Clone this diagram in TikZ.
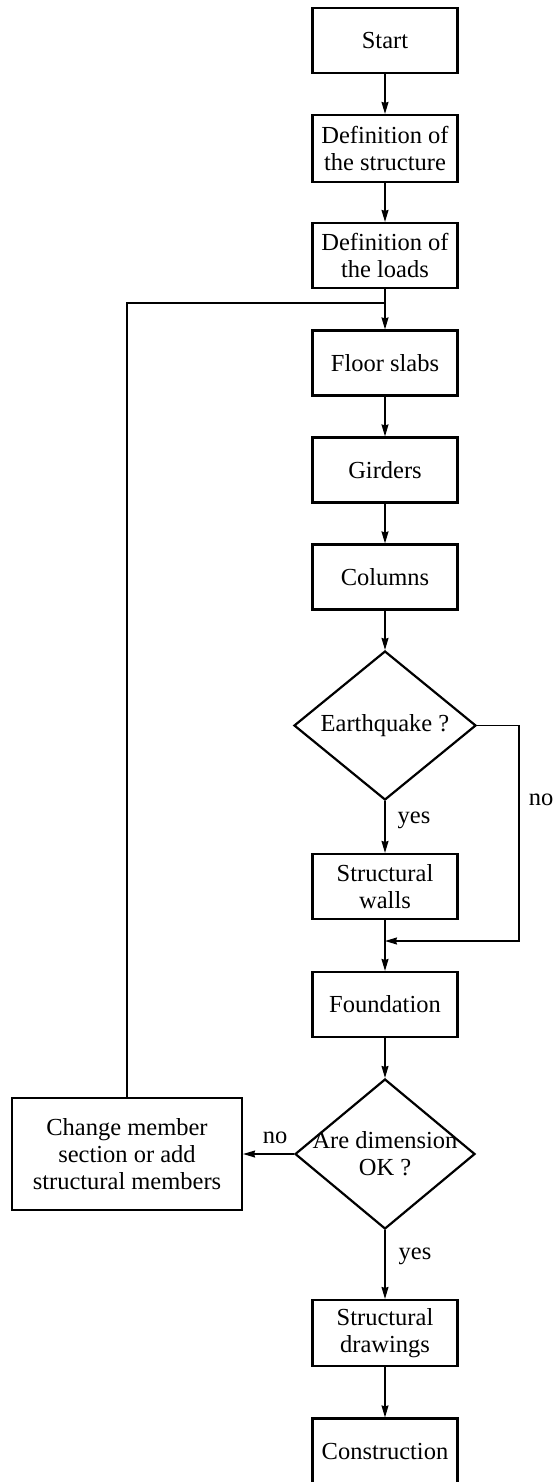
\documentclass[tikz,border=0pt]{standalone}
\usepackage{fontspec}
\setmainfont{Liberation Serif}
\usetikzlibrary{shapes.geometric,arrows.meta}
\begin{document}
\begin{tikzpicture}[x=1pt,y=-1pt,
  font=\fontsize{24.5}{27}\selectfont,
  box/.style={draw,line width=2.2pt,minimum width=145pt,minimum height=65pt,inner sep=0pt,align=center},
  dia/.style={draw,diamond,line width=2.2pt,minimum width=182pt,minimum height=149pt,inner sep=0pt},
  lbl/.style={align=center,inner sep=0pt},
  conn/.style={line width=1.3pt},
  arr/.style={conn,-{Stealth[length=12pt,width=7pt,inset=1pt]}}]
\useasboundingbox (0,0) rectangle (556,1482);
\node[box] (start) at (385,40.5) {Start};
\node[box,minimum height=67pt] (defs) at (385,148.5) {Definition of\\the structure};
\node[box] (defl) at (385,255.5) {Definition of\\the loads};
\node[box] (floor) at (385,363) {Floor slabs};
\node[box] (gird) at (385,470) {Girders};
\node[box] (col) at (385,577) {Columns};
\node[dia] (eq) at (385,725.5) {};
\node[lbl] (eqt) at (eq.center) {Earthquake ?};
\node[box] (walls) at (385,886.5) {Structural\\walls};
\node[box] (found) at (385,1004.5) {Foundation};
\node[dia,minimum width=180pt,minimum height=150pt] (ok) at (385,1154) {};
\node[lbl] (okt) at (ok.center) {Are dimension\\OK ?};
\node[box,minimum width=230pt,minimum height=112pt] (chg) at (127,1154) {Change member\\section or add\\structural members};
\node[box,minimum height=66pt] (draw) at (385,1333) {Structural\\drawings};
\node[box] (cons) at (385,1451) {Construction};
\coordinate (j1) at (385,303);
\coordinate (j2) at (519,941);
\coordinate (j3) at (385,941);
\node[lbl] (no1) at (541,800) {no};
\node[lbl] (yes1) at (414,820) {yes};
\node[lbl] (no2) at (275,1138) {no};
\node[lbl] (yes2) at (415,1256) {yes};
\draw[arr] (start) -- (defs);
\draw[arr] (defs) -- (defl);
\draw[arr] (defl) -- (floor);
\draw[arr] (floor) -- (gird);
\draw[arr] (gird) -- (col);
\draw[arr] (col) -- (eq.north);
\draw[arr] (eq.south) -- (walls);
\draw[arr] (eq.east) -| (j2) -- (j3);
\draw[arr] (walls) -- (found);
\draw[arr] (found) -- (ok.north);
\draw[arr] (ok.west) -- (chg);
\draw[conn] (chg.north) |- (j1);
\draw[arr] (ok.south) -- (draw);
\draw[arr] (draw) -- (cons);
\end{tikzpicture}
\end{document}
